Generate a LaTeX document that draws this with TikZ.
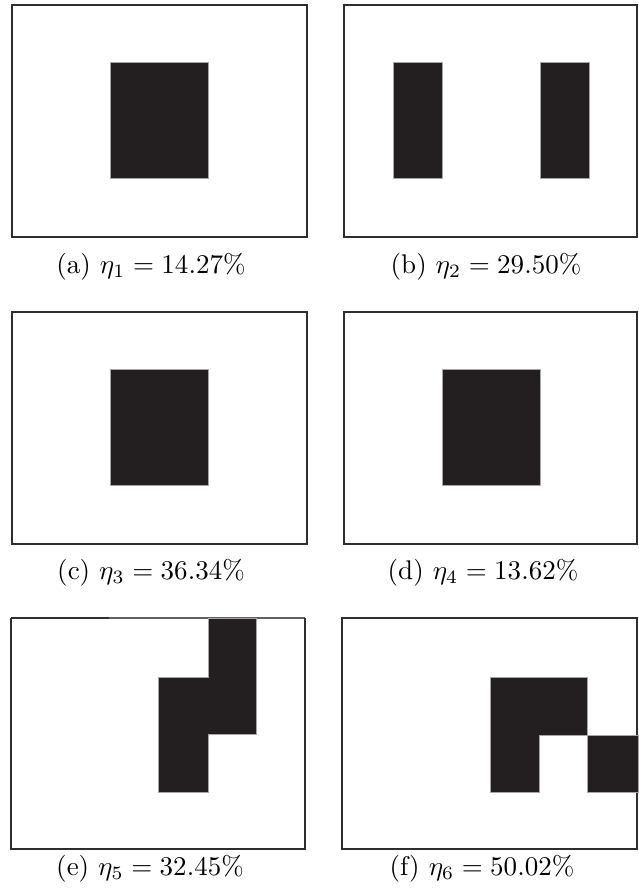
\documentclass[tikz,border=0pt]{standalone}
\usepackage{graphicx}
\definecolor{inkfill}{HTML}{231F20}
\definecolor{frameline}{HTML}{2E2E2E}
\newcommand{\capbig}[1]{\scalebox{2.7}{#1}}
\begin{document}
\begin{tikzpicture}[x=1pt,y=-1pt,
  framebox/.style={draw=frameline,line width=1.8pt},
  light edge/.style={draw=black!62,line width=1.5pt},
  solid block/.style={fill=inkfill,draw=gray!70,line width=0.4pt},
  caption/.style={anchor=base,inner sep=0pt}]
\useasboundingbox[fill=white] (0,0) rectangle (638,892);
% (a)
\draw[framebox] (12,5) rectangle (307,237);
\draw[solid block] (110,62) rectangle (208,178);
\node[caption] (capa) at (151,273) {\capbig{(a) $\eta_1 = 14.27\%$}};
% (b)
\draw[framebox] (344,5) rectangle (637,237);
\draw[solid block] (393,62) rectangle (442,178);
\draw[solid block] (540,62) rectangle (589,178);
\node[caption] (capb) at (486,273) {\capbig{(b) $\eta_2 = 29.50\%$}};
% (c)
\draw[framebox] (12,312) rectangle (307,544);
\draw[solid block] (110,369) rectangle (208,485);
\node[caption] (capc) at (151,579) {\capbig{(c) $\eta_3 = 36.34\%$}};
% (d)
\draw[framebox] (344,312) rectangle (637,544);
\draw[solid block] (442,369) rectangle (540,485);
\node[caption] (capd) at (483,579) {\capbig{(d) $\eta_4 = 13.62\%$}};
% (e)
\draw[framebox] (11,618) -- (109,618);
\draw[light edge] (109,618) -- (305,618);
\draw[framebox] (11,618) -- (11,849) -- (305,849) -- (305,618);
\draw[solid block] (208,618) -- (256,618) -- (256,734) -- (208,734) -- (208,792)
  -- (158,792) -- (158,677) -- (208,677) -- cycle;
\node[caption] (cape) at (150,875) {\capbig{(e) $\eta_5 = 32.45\%$}};
% (f)
\draw[framebox] (342,618) rectangle (637,849);
\draw[solid block] (490,677) -- (587,677) -- (587,735) -- (539,735) -- (539,792)
  -- (490,792) -- cycle;
\draw[solid block] (587,735) rectangle (638,792);
\node[caption] (capf) at (482,875) {\capbig{(f) $\eta_6 = 50.02\%$}};
\end{tikzpicture}
\end{document}
